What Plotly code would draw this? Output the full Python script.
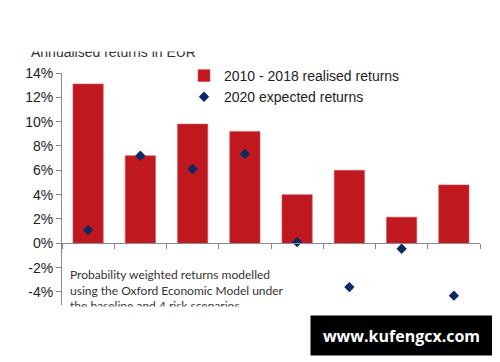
import plotly.graph_objects as go

categories = ["Asset 1", "Asset 2", "Asset 3", "Asset 4", "Asset 5", "Asset 6", "Asset 7", "Asset 8"]
realised = [13.1, 7.2, 9.8, 9.2, 4.0, 6.0, 2.15, 4.8]
expected = [1.1, 7.2, 6.1, 7.35, 0.1, -3.6, -0.45, -4.3]
tick_vals = [-4, -2, 0, 2, 4, 6, 8, 10, 12, 14]
tick_text = ["-4%", "-2%", "0%", "2%", "4%", "6%", "8%", "10%", "12%", "14%"]

# the page body has an 8px margin, so the figure starts at (8, 8) in the window
OFF = 8
W, H = 500 - OFF, 362 - OFF
PL, PR, PT, PB = 62, 480, 73, 305          # plot area in window pixels
ML, MR, MT, MB = PL - OFF, 500 - PR, PT - OFF, 362 - PB
YMIN, YMAX = -5.07, 14

def px_x(x):
    return (x - PL) / (PR - PL)

def px_y(y):
    return (PB - y) / (PB - PT)

fig = go.Figure()
fig.add_trace(go.Bar(
    x=categories, y=realised, name="2010 - 2018 realised returns",
    marker=dict(color="#C0181F", line=dict(color="#D9575C", width=0.6)),
))
fig.add_trace(go.Scatter(
    x=categories, y=expected, name="2020 expected returns", mode="markers",
    marker=dict(symbol="diamond", size=8, color="#0B2A62"),
))

fig.update_layout(
    width=W, height=H,
    margin=dict(l=ML, r=MR, t=MT, b=MB),
    paper_bgcolor="white", plot_bgcolor="white",
    bargap=0.42,
    font=dict(family="Liberation Sans, Arial", size=14, color="#222222"),
    showlegend=True,
    legend=dict(x=px_x(184), y=px_y(60), xanchor="left", yanchor="top",
                bgcolor="rgba(0,0,0,0)", font=dict(size=14, color="#222222")),
    xaxis=dict(
        type="category", showticklabels=False, showgrid=False,
        showline=True, linecolor="#8A8A8A", linewidth=1,
        ticks="outside", ticklen=5, tickcolor="#8A8A8A", tickson="boundaries",
        anchor="free", position=(0 - YMIN) / (YMAX - YMIN),
        range=[-0.5, len(categories) - 0.5],
    ),
    yaxis=dict(
        range=[YMIN, YMAX], tickvals=tick_vals, ticktext=tick_text,
        showgrid=False, zeroline=False,
        showline=True, linecolor="#8A8A8A", linewidth=1,
        ticks="outside", ticklen=5, tickcolor="#8A8A8A",
        tickfont=dict(size=14, color="#222222"),
    ),
)

annotations = [
    # title (partly cropped in the reference)
    dict(text="Annualised returns in EUR", xref="paper", yref="paper",
         x=px_x(29), y=px_y(52.5), xanchor="left", yanchor="middle",
         showarrow=False, font=dict(size=14, color="#333333")),
    dict(text=" ", xref="paper", yref="paper", x=px_x(0), y=px_y(0),
         xanchor="left", yanchor="top", width=260, height=50, borderpad=0,
         bgcolor="white", showarrow=False),
    # note text
    dict(text="Probability weighted returns modelled<br>using the Oxford Economic Model under<br>the baseline and 4 risk scenarios",
         xref="paper", yref="paper", x=px_x(68), y=px_y(265), xanchor="left", yanchor="top",
         align="left", showarrow=False, font=dict(family="Lato", size=12, color="#333333")),
    dict(text=" ", xref="paper", yref="paper", x=px_x(63), y=px_y(305.5),
         xanchor="left", yanchor="top", width=250, height=10, borderpad=0,
         bgcolor="white", showarrow=False),
    # watermark
    dict(text="<b>www.kufengcx.com</b>", xref="paper", yref="paper",
         x=px_x(310), y=px_y(315), xanchor="left", yanchor="top",
         width=181, height=39, borderpad=0, bgcolor="black", showarrow=False,
         font=dict(family="Open Sans", size=16, color="white")),
]
fig.update_layout(annotations=annotations)

fig.write_html("out.html")
